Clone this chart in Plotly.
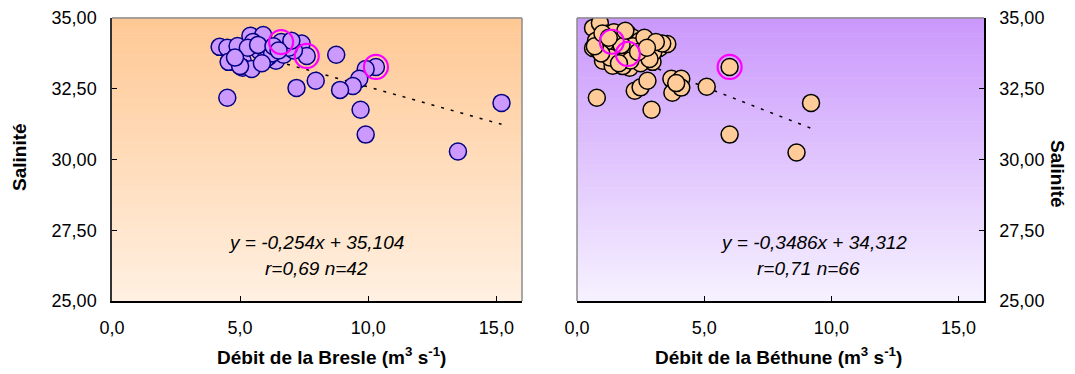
import plotly.graph_objects as go

# ---------------- data ----------------
bresle_q = [4.2, 4.5, 4.9, 5.4, 5.9, 5.5, 6.6, 7.4, 7.6, 8.75, 10.3, 9.9, 9.65, 9.4,
            8.9, 7.95, 7.2, 4.5, 9.7, 9.9, 13.5, 15.2, 4.55, 5.1, 5.1, 5.45, 6.4,
            6.1, 5.75, 6.7, 6.0, 7.1, 5.0, 6.25, 5.3, 5.7, 6.9, 6.3, 4.8, 5.85, 7.0, 6.5]
bresle_s = [33.98, 33.95, 34.01, 34.37, 34.40, 34.15, 34.15, 34.10, 33.66, 33.70, 33.27,
            33.20, 32.85, 32.60, 32.46, 32.78, 32.53, 32.18, 31.76, 30.88, 30.28, 32.00,
            33.45, 33.49, 33.24, 33.20, 33.49, 33.62, 33.84, 33.70, 33.56, 33.85, 33.30,
            33.75, 33.95, 34.05, 33.95, 34.00, 33.60, 33.40, 34.20, 33.85]
bresle_hl_q = [6.6, 7.6, 10.3]
bresle_hl_s = [34.15, 33.66, 33.27]

bethune_q = [0.78, 2.93, 6.0, 9.2, 8.63, 5.1, 6.0, 2.27, 2.5, 2.77, 3.71, 4.1, 3.75, 4.1, 3.9,
             0.86, 0.63, 0.9, 1.17, 1.37, 0.63, 0.82, 2.0, 2.58, 2.38, 2.0, 1.02, 1.4, 2.07,
             2.97, 3.24, 3.55, 1.8, 2.2, 2.46, 2.53, 1.6, 1.2, 1.5, 1.9, 2.3, 2.7, 1.1, 0.75,
             1.6, 2.5, 1.8, 2.9, 3.0, 1.3, 2.2, 0.95, 1.75, 2.65, 3.35, 1.45, 2.1, 0.7, 2.85,
             1.0, 2.4, 1.65, 3.1, 1.25, 2.75, 1.9]
bethune_s = [32.18, 31.76, 30.88, 32.00, 30.25, 32.57, 33.27, 32.43, 32.55, 32.78, 32.85,
             32.85, 32.36, 32.54, 32.70, 34.79, 34.65, 34.82, 34.44, 34.16, 33.94, 33.90,
             34.44, 34.19, 34.01, 33.73, 33.49, 33.31, 33.24, 33.45, 33.94, 34.08, 34.37,
             34.30, 34.19, 33.90, 34.20, 33.95, 33.80, 33.95, 33.60, 33.70, 34.10, 34.20,
             33.55, 33.40, 33.30, 34.00, 33.80, 33.60, 34.00, 33.75, 34.05, 34.30, 34.10,
             34.50, 33.50, 34.00, 33.55, 34.45, 33.80, 33.40, 34.15, 34.30, 33.95, 34.55]
bethune_hl_q = [1.37, 2.0, 6.0]
bethune_hl_s = [34.16, 33.73, 33.27]

# regression (slope, intercept) as printed on the chart
bresle_fit = (-0.254, 35.104)
bethune_fit = (-0.3486, 34.312)

x_ticks = [0, 5, 10, 15]
y_ticks = [25, 27.5, 30, 32.5, 35]

FONT = "Arial, Liberation Sans, sans-serif"
W, H = 1075, 374
OFF = 8  # page body margin offset

fig = go.Figure()

def fit_line(q, fit):
    xs = [min(q), max(q)]
    return xs, [fit[0] * v + fit[1] for v in xs]

# ----- Bresle panel -----
fx, fy = fit_line(bresle_q, bresle_fit)
fig.add_trace(go.Scatter(x=fx, y=fy, mode="lines", xaxis="x", yaxis="y",
                         line=dict(color="black", width=1.5, dash="3px,7px"),
                         showlegend=False, hoverinfo="skip"))
fig.add_trace(go.Scatter(x=bresle_q, y=bresle_s, mode="markers", xaxis="x", yaxis="y",
                         marker=dict(size=17, color="#CC99FF",
                                     line=dict(color="#000080", width=1.5)),
                         showlegend=False))
fig.add_trace(go.Scatter(x=bresle_hl_q, y=bresle_hl_s, mode="markers", xaxis="x", yaxis="y",
                         marker=dict(size=24, symbol="circle-open", color="#FF00FF",
                                     line=dict(color="#FF00FF", width=2.2)),
                         showlegend=False))

# ----- Béthune panel -----
fx2, fy2 = fit_line(bethune_q, bethune_fit)
fig.add_trace(go.Scatter(x=fx2, y=fy2, mode="lines", xaxis="x2", yaxis="y2",
                         line=dict(color="black", width=1.5, dash="3px,7px"),
                         showlegend=False, hoverinfo="skip"))
fig.add_trace(go.Scatter(x=bethune_q, y=bethune_s, mode="markers", xaxis="x2", yaxis="y2",
                         marker=dict(size=17, color="#FFCC99",
                                     line=dict(color="black", width=1.5)),
                         showlegend=False))
fig.add_trace(go.Scatter(x=bethune_hl_q, y=bethune_hl_s, mode="markers", xaxis="x2", yaxis="y2",
                         marker=dict(size=24, symbol="circle-open", color="#FF00FF",
                                     line=dict(color="#FF00FF", width=2.2)),
                         showlegend=False))

# ----- gradient backgrounds -----
shapes = []
def gradient(xr, yr, top, bottom, n=90):
    for i in range(n):
        t = (i + 0.5) / n
        c = tuple(round(bottom[k] + (top[k] - bottom[k]) * t) for k in range(3))
        shapes.append(dict(type="rect", xref=xr, yref=yr, x0=0, x1=1,
                           y0=i / n, y1=(i + 1) / n + 0.002,
                           fillcolor="rgb(%d,%d,%d)" % c, line=dict(width=0),
                           layer="below"))

gradient("x domain", "y domain", (255, 200, 148), (255, 240, 225))
gradient("x2 domain", "y2 domain", (202, 152, 252), (246, 241, 255))

# gray frame edges
for xr, yr, seg in [("x domain", "y domain", (0, 1, 1, 1)),
                    ("x domain", "y domain", (1, 0, 1, 1)),
                    ("x2 domain", "y2 domain", (0, 1, 1, 1)),
                    ("x2 domain", "y2 domain", (0, 0, 0, 1))]:
    shapes.append(dict(type="line", xref=xr, yref=yr, x0=seg[0], y0=seg[1],
                       x1=seg[2], y1=seg[3], line=dict(color="#8c8c8c", width=1.5)))

axis_common = dict(showgrid=False, zeroline=False, ticks="inside", ticklen=5,
                   tickcolor="black", tickwidth=1, showline=True, linewidth=1.5,
                   automargin=False,
                   tickfont=dict(family=FONT, size=18, color="black"))

def px(x):
    return (x - OFF) / W

def py(y):
    return 1 - (y - OFF) / H

def note(text, x, y, size=19, angle=0):
    return dict(text=text, xref="paper", yref="paper", x=px(x), y=py(y),
                xanchor="center", yanchor="middle", textangle=angle,
                showarrow=False, font=dict(family=FONT, size=size, color="black"))

ydom = [py(301), py(18)]
fig.update_layout(
    template="none",
    width=W, height=H,
    margin=dict(l=0, r=0, t=0, b=0, autoexpand=False),
    paper_bgcolor="white", plot_bgcolor="white",
    separators=", ",
    shapes=shapes,
    showlegend=False,
    xaxis=dict(domain=[px(112), px(522)], range=[0, 16], tickvals=x_ticks,
               tickformat=".1f", anchor="y", linecolor="black",
               ticklabelstandoff=10, **axis_common),
    yaxis=dict(domain=ydom, range=[25, 35], tickvals=y_ticks, tickformat=".2f",
               anchor="x", linecolor="#333333", ticklabelstandoff=10, **axis_common),
    xaxis2=dict(domain=[px(577), px(984)], range=[0, 16], tickvals=x_ticks,
                tickformat=".1f", anchor="y2", linecolor="black",
                ticklabelstandoff=10, **axis_common),
    yaxis2=dict(domain=ydom, range=[25, 35], tickvals=y_ticks, tickformat=".2f",
                anchor="x2", side="right", linecolor="black", ticklabelstandoff=10,
                **axis_common),
    annotations=[
        note("<b>Débit de la Bresle (m<sup>3</sup> s<sup>-1</sup>)</b>", 331, 356),
        note("<b>Débit de la Béthune (m<sup>3</sup> s<sup>-1</sup>)</b>", 778, 356),
        note("<b>Salinité</b>", 19, 157, size=19, angle=-90),
        note("<b>Salinité</b>", 1058, 174, size=19, angle=90),
        note("<i>y = -0,254x + 35,104</i>", 316, 243),
        note("<i>r=0,69 n=42</i>", 316, 268),
        note("<i>y = -0,3486x + 34,312</i>", 813, 243),
        note("<i>r=0,71 n=66</i>", 808, 268),
    ],
)

fig.write_html("out.html")
